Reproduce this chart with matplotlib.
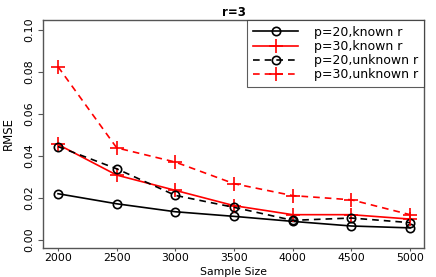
import numpy as np
import matplotlib.pyplot as plt

sizes = [2000, 2500, 3000, 3500, 4000, 4500, 5000]
p20_known = [0.0219, 0.0171, 0.0133, 0.0111, 0.0087, 0.0065, 0.0056]
p30_known = [0.0454, 0.0308, 0.0235, 0.0162, 0.0119, 0.0119, 0.0098]
p20_unknown = [0.0444, 0.0338, 0.0211, 0.0154, 0.0092, 0.0103, 0.0081]
p30_unknown = [0.0825, 0.0438, 0.0370, 0.0267, 0.0210, 0.0190, 0.0119]
labels = ["p=20,known r", "p=30,known r", "p=20,unknown r", "p=30,unknown r"]

if __name__ == "__main__":
    plt.rcParams["font.family"] = "DejaVu Sans"
    fig = plt.figure(figsize=(4.36, 2.77), dpi=100)
    ax = fig.add_axes([43 / 436, 29 / 277, 381 / 436, 228 / 277])

    ax.plot(sizes, p20_known, color="black", lw=1.2, marker="o", ms=6,
            mfc="none", mew=1.2, label=labels[0])
    ax.plot(sizes, p30_known, color="red", lw=1.2, marker="+", ms=10,
            mew=1.2, label=labels[1])
    ax.plot(sizes, p20_unknown, color="black", lw=1.2, ls=(0, (4, 3)), marker="o",
            ms=6, mfc="none", mew=1.2, label=labels[2])
    ax.plot(sizes, p30_unknown, color="red", lw=1.2, ls=(0, (4, 3)), marker="+",
            ms=10, mew=1.2, label=labels[3])

    ax.set_xlim(1872, 5119)
    ax.set_ylim(-0.004, 0.1048)
    ax.set_xticks(sizes)
    ax.set_yticks([0.0, 0.02, 0.04, 0.06, 0.08, 0.10])
    ax.set_yticklabels(["0.00", "0.02", "0.04", "0.06", "0.08", "0.10"],
                       rotation=90, va="center")
    ax.tick_params(axis="both", labelsize=8, length=3.5, width=0.8,
                   color="#555555", pad=3)
    ax.tick_params(axis="x", labelsize=7.8, length=2.5, pad=0.8)
    for s in ax.spines.values():
        s.set_color("#555555")
        s.set_linewidth(1.0)

    ax.set_title("r=3", fontsize=8.5, fontweight="bold", pad=3)
    ax.set_xlabel("Sample Size", fontsize=7.8, va="bottom")
    ax.xaxis.set_label_coords(0.5, -29 / 228)
    ax.set_ylabel("RMSE", fontsize=8.5)
    ax.yaxis.set_label_coords(-0.073, 0.5)

    leg = ax.legend(loc="upper right", fontsize=9, frameon=True, fancybox=False,
                    borderaxespad=0, handlelength=3.6, handletextpad=1.3,
                    labelspacing=0.1, borderpad=0.45)
    leg.get_frame().set_edgecolor("#333333")
    leg.get_frame().set_linewidth(0.8)

    fig.savefig("out.png", dpi=100)
